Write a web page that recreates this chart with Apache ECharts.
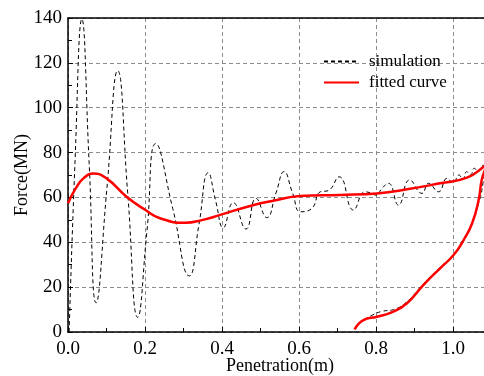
<!DOCTYPE html>
<html>
<head>
<meta charset="utf-8">
<script src="https://cdn.jsdelivr.net/npm/echarts@6/dist/echarts.min.js"></script>
<style>
  html, body { margin: 0; padding: 0; background: #fff; }
  #chart { width: 484px; height: 376px; }
</style>
</head>
<body>
<div id="chart"></div>
<script>
// Penetration (m) and force (MN) of the simulated run: loading, then unloading.
const simPenetration = [
  0.003, 0.018, 0.036, 0.055, 0.073, 0.101, 0.129, 0.155, 0.181, 0.205,
  0.228, 0.272, 0.315, 0.340, 0.364, 0.384, 0.403, 0.429, 0.462, 0.488,
  0.516, 0.540, 0.561, 0.583, 0.604, 0.633, 0.655, 0.675, 0.704, 0.741,
  0.771, 0.786, 0.800, 0.815, 0.832, 0.858, 0.887, 0.919, 0.936, 0.962,
  0.984, 1.000, 1.015, 1.025, 1.035, 1.045, 1.055, 1.065, 1.075, 1.085,
  1.082, 1.077, 1.072, 1.066, 1.058, 1.049, 1.027, 1.001, 0.966, 0.923,
  0.880, 0.845, 0.815, 0.790, 0.770
];
const simForce = [
  0.0, 75.0, 139.5, 75.0, 13.0, 64.0, 116.5, 62.0, 6.5, 45.0,
  84.0, 55.0, 25.0, 48.0, 71.0, 58.0, 46.5, 57.7, 45.9, 59.6,
  51.0, 62.0, 71.5, 62.0, 53.6, 55.1, 62.5, 63.0, 69.2, 54.4,
  62.5, 62.0, 61.0, 64.0, 66.3, 56.6, 67.8, 61.8, 66.3, 62.5,
  68.5, 66.5, 70.0, 68.0, 71.5, 70.0, 73.0, 71.5, 74.0, 74.5,
  71.0, 66.0, 61.0, 57.5, 53.0, 48.5, 41.5, 34.5, 28.8, 21.5,
  13.5, 10.0, 9.2, 7.5, 5.5
];

// Fitted curve through the same loading / unloading path.
const fitPenetration = [
  0.000, 0.020, 0.040, 0.066, 0.100, 0.152, 0.200, 0.239, 0.304, 0.350,
  0.395, 0.473, 0.533, 0.603, 0.706, 0.802, 0.880, 0.966, 1.036, 1.079,
  1.092, 1.082, 1.074, 1.066, 1.049, 1.027, 1.001, 0.966, 0.923, 0.880,
  0.845, 0.802, 0.767, 0.744
];
const fitForce = [
  57.4, 64.0, 68.5, 70.7, 68.5, 60.3, 54.5, 50.7, 48.7, 50.0,
  52.2, 56.2, 58.5, 60.6, 61.1, 61.8, 63.6, 66.3, 68.8, 73.7,
  76.0, 72.0, 67.8, 58.8, 48.4, 41.0, 34.3, 28.4, 21.0, 12.8,
  9.1, 6.8, 5.3, 1.2
];

const seriesNames = ['simulation', 'fitted curve'];
const xTicks = { min: 0, max: 1.08, interval: 0.2 };
const yTicks = { min: 0, max: 140, interval: 20 };

const pairs = (xs, ys) => xs.map((x, i) => [x, ys[i]]);
const serif = 'Liberation Serif';

const chart = echarts.init(document.getElementById('chart'), null, { renderer: 'canvas' });

chart.setOption({
  animation: false,
  backgroundColor: '#ffffff',
  grid: { left: 68, top: 18, right: 0, bottom: 44, containLabel: false, outerBoundsMode: 'none' },
  legend: {
    orient: 'vertical',
    left: 323,
    top: 53,
    padding: 0,
    itemWidth: 35,
    itemHeight: 14,
    itemGap: 4,
    itemStyle: { opacity: 0 },
    textStyle: { fontFamily: serif, fontSize: 17, color: '#000', padding: [0, 0, 0, 5] },
    data: seriesNames
  },
  xAxis: [
    {
      type: 'value',
      position: 'bottom',
      min: xTicks.min,
      max: xTicks.max,
      interval: xTicks.interval,
      name: 'Penetration(m)',
      nameLocation: 'middle',
      nameGap: 25,
      nameMoveOverlap: false,
      nameTextStyle: { fontFamily: serif, fontSize: 18, color: '#000', padding: [0, 0, 0, 8] },
      axisLine: { show: true, onZero: false, lineStyle: { color: '#000', width: 1.5 } },
      axisTick: { show: true, inside: true, length: 5, lineStyle: { color: '#000', width: 1 } },
      minorTick: { show: true, splitNumber: 2, length: 4, lineStyle: { color: '#000', width: 1 } },
      axisLabel: {
        fontFamily: serif, fontSize: 19, color: '#000', margin: 8,
        showMaxLabel: false,
        formatter: v => v.toFixed(1)
      },
      splitLine: { show: true, lineStyle: { color: '#8c8c8c', type: [4, 3], width: 1 } }
    },
    {
      type: 'value',
      position: 'top',
      min: xTicks.min,
      max: xTicks.max,
      axisLine: { show: true, onZero: false, lineStyle: { color: '#000', width: 1.5 } },
      axisTick: { show: false },
      axisLabel: { show: false },
      splitLine: { show: false }
    }
  ],
  yAxis: {
    type: 'value',
    min: yTicks.min,
    max: yTicks.max,
    interval: yTicks.interval,
    name: 'Force(MN)',
    nameLocation: 'middle',
    nameGap: 37,
    nameMoveOverlap: false,
    nameTextStyle: { fontFamily: serif, fontSize: 18, color: '#000' },
    axisLine: { show: true, onZero: false, lineStyle: { color: '#000', width: 1.5 } },
    axisTick: { show: true, inside: true, length: 5, lineStyle: { color: '#000', width: 1 } },
    minorTick: { show: true, splitNumber: 2, length: 4, lineStyle: { color: '#000', width: 1 } },
    axisLabel: { fontFamily: serif, fontSize: 19, color: '#000', margin: 6 },
    splitLine: { show: true, lineStyle: { color: '#8c8c8c', type: [4, 3], width: 1 } }
  },
  series: [
    {
      name: seriesNames[0],
      type: 'line',
      xAxisIndex: 0,
      data: pairs(simPenetration, simForce),
      smooth: 0.5,
      symbol: 'none',
      clip: true,
      lineStyle: { color: '#000', width: 1, type: [4, 3] },
      itemStyle: { color: '#000' },
      z: 2
    },
    {
      name: seriesNames[1],
      type: 'line',
      xAxisIndex: 0,
      data: pairs(fitPenetration, fitForce),
      smooth: 0.5,
      symbol: 'none',
      clip: true,
      lineStyle: { color: '#ff0000', width: 2.5 },
      itemStyle: { color: '#ff0000' },
      z: 3
    }
  ]
});
</script>
</body>
</html>
